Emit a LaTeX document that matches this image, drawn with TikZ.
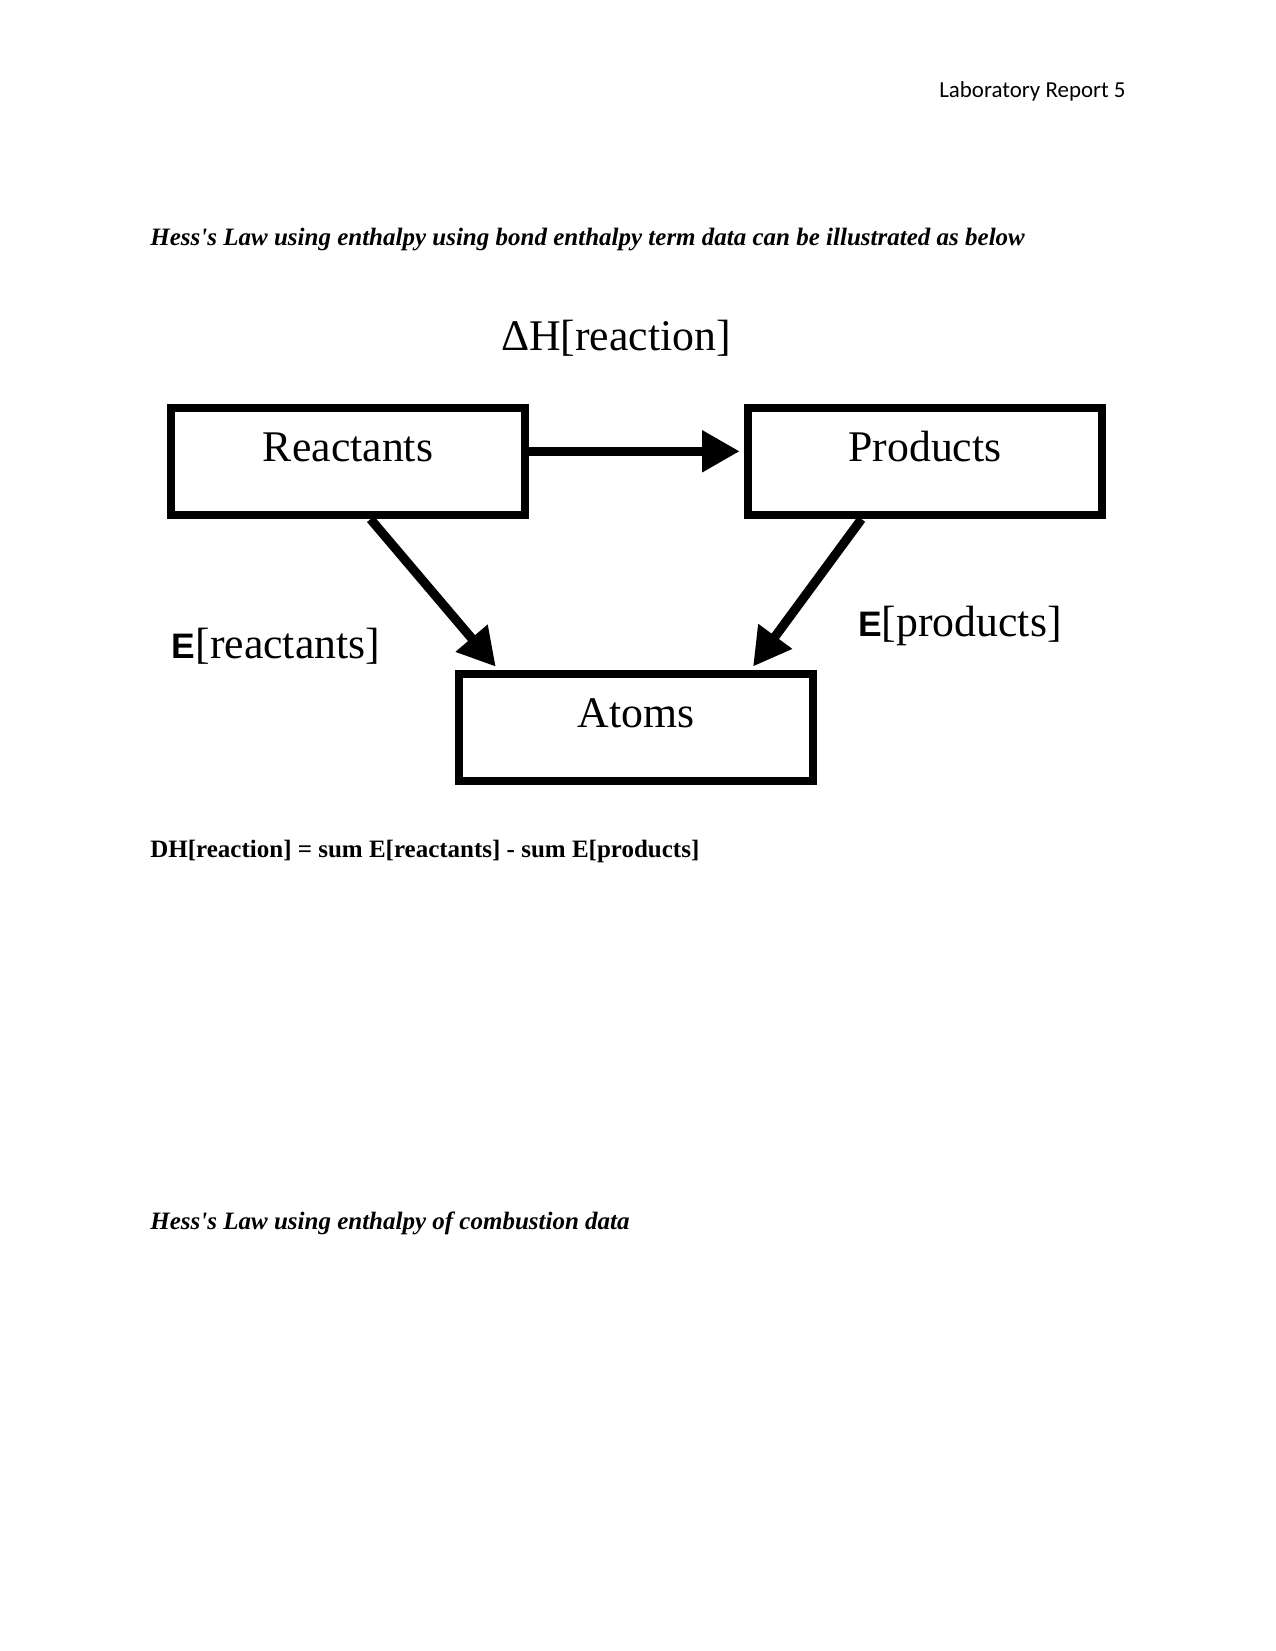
\documentclass[tikz,border=0pt]{standalone}
\usepackage{fontspec}
\setmainfont{Liberation Serif}
\newfontfamily\hdrfont{Carlito}
\newfontfamily\diagfont{Liberation Serif}
\newfontfamily\efont{Liberation Sans}
\usetikzlibrary{arrows.meta}
\tikzset{
    box/.style={draw, line width=3.9pt, minimum width=170pt, minimum height=51.4pt,
        inner sep=0pt, text height=15pt, text depth=15pt, font=\diagfont\fontsize{21}{24}\selectfont},
    lbl/.style={anchor=base, inner sep=0pt, font=\diagfont\fontsize{21}{24}\selectfont},
    arr/.style={line width=4.4pt, -{Triangle[length=18pt,width=19pt]}, shorten >=2pt},
    para/.style={anchor=base west, inner sep=0pt, font=\fontsize{12}{14}\selectfont\bfseries}
}
\newcommand{\Ebold}{{\efont\bfseries\fontsize{17}{20}\selectfont E}}
\begin{document}
\begin{tikzpicture}[x=0.48pt, y=-0.48pt]
    \useasboundingbox (0,0) rectangle (1275,1651);
    % page header and text
    \node[anchor=base east, inner sep=0pt, font=\hdrfont\fontsize{11}{13}\selectfont] (hdr) at (1126,98) {Laboratory Report 5};
    \node[para, font=\fontsize{12}{14}\selectfont\bfseries\itshape] (head1) at (150,246) {Hess\textquotesingle s Law using enthalpy using bond enthalpy term data can be illustrated as below};
    % the cycle
    \node[lbl] (dh) at (616,350) {ΔH[reaction]};
    \node[box] (reac) at (348,461.5) {Reactants};
    \node[box] (prod) at (925,461.5) {Products};
    \node[box] (atoms) at (636,727.5) {Atoms};
    \node[lbl] (er) at (276,658) {\Ebold[reactants]};
    \node[lbl] (ep) at (960,636) {\Ebold[products]};
    \draw[arr] ([yshift=4.9pt]reac.east) -- ([yshift=4.9pt]prod.west);
    \draw[arr] ([xshift=10.8pt]reac.south) -- ([xshift=-66pt]atoms.north);
    \draw[arr] ([xshift=-30.5pt]prod.south) -- ([xshift=55pt]atoms.north);
    \node[para] (eqn) at (150,857) {DH[reaction] = sum E[reactants] - sum E[products]};
    \node[para, font=\fontsize{12}{14}\selectfont\bfseries\itshape] (head2) at (150,1229) {Hess\textquotesingle s Law using enthalpy of combustion data};
\end{tikzpicture}
\end{document}
